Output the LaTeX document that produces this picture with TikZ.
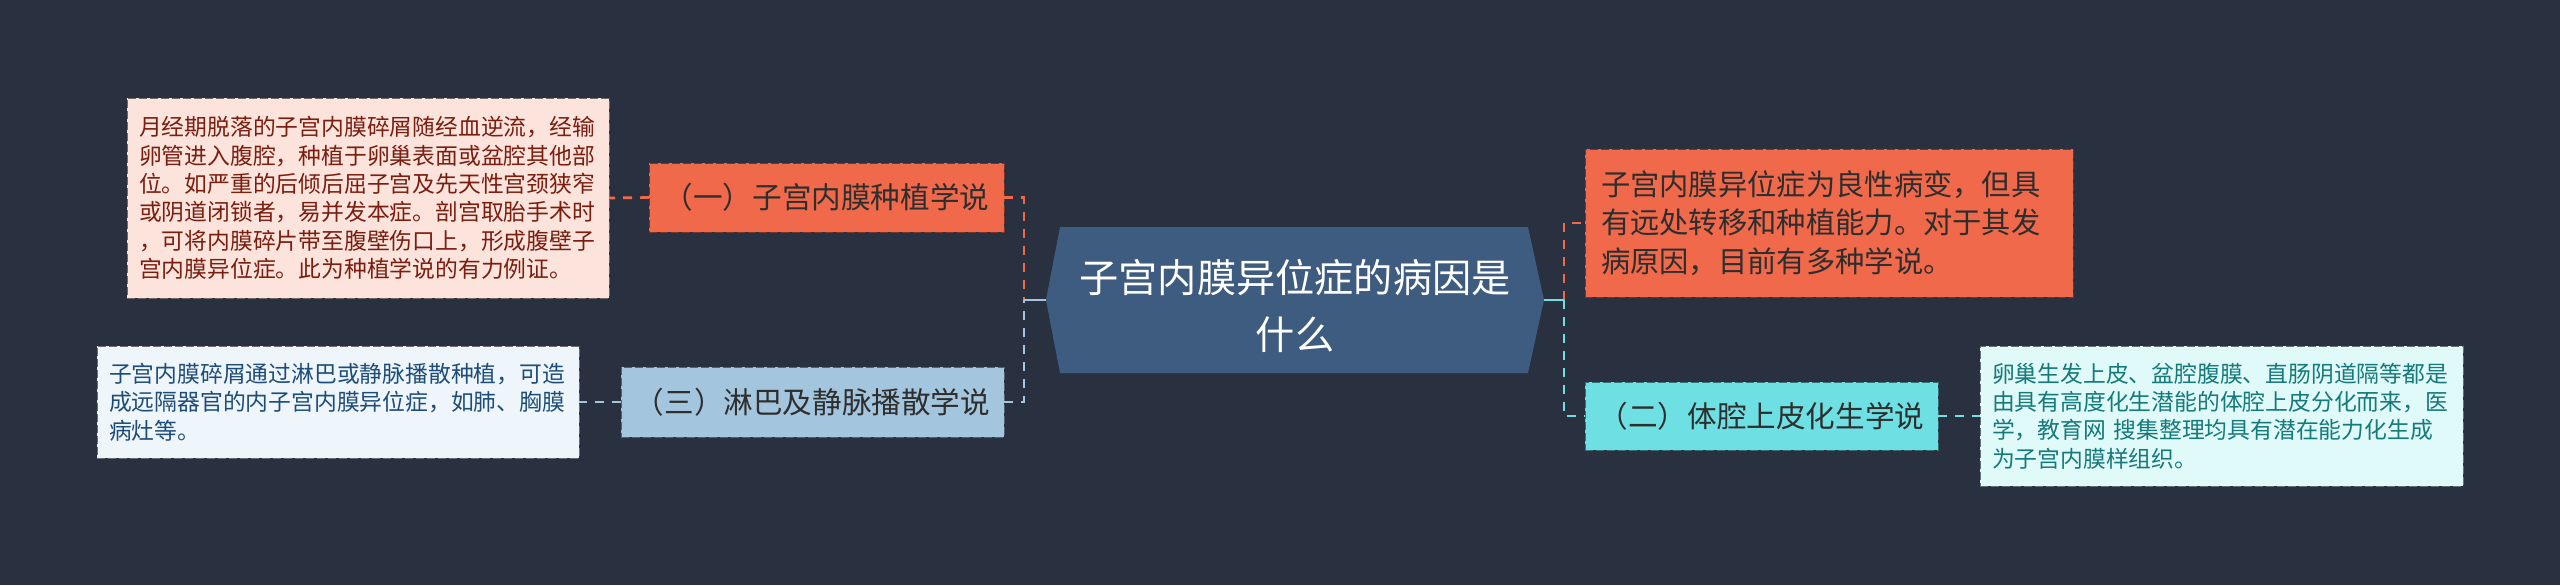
\documentclass[tikz,border=0pt]{standalone}
\usepackage{fontspec}
\setmainfont{Noto Sans CJK SC}
\definecolor{bg}{HTML}{293140}
\definecolor{cfill}{HTML}{3E5B80}
\definecolor{orng}{HTML}{F0694B}
\definecolor{pinkfill}{HTML}{FCE4DD}
\definecolor{pinktext}{HTML}{7A1E10}
\definecolor{lblue}{HTML}{A3C5DD}
\definecolor{bthreefill}{HTML}{EEF5FB}
\definecolor{bthreetext}{HTML}{1E4D78}
\definecolor{cyanone}{HTML}{6EE0E4}
\definecolor{rtwofill}{HTML}{E0F9F9}
\definecolor{rtwotext}{HTML}{157A7A}
\definecolor{dtext}{HTML}{2E2E2E}
\begin{document}
\begin{tikzpicture}[x=0.5pt,y=-0.5pt,
  conn/.style={line width=1.35pt, dash pattern=on 4.5pt off 4pt},
  solidconn/.style={line width=1.35pt},
  boxbase/.style={rectangle, outer sep=0pt, inner ysep=0pt, line width=0.5pt, dash pattern=on 4pt off 1.5pt},
  branch/.style={boxbase, fill=#1, draw=#1!50!black, align=center, inner xsep=0pt, font=\fontsize{14.8pt}{18pt}\selectfont, text=dtext},
  leaf/.style={boxbase, align=left, font=\fontsize{11.4pt}{14.15pt}\selectfont}
]
\useasboundingbox (0,0) rectangle (2560,585);
\fill[bg] (0,0) rectangle (2560,585);

% central topic
\fill[cfill] (1046,300) coordinate (cW) -- (1060,227) -- (1528,227) -- (1544,300) coordinate (cE) -- (1528,373) -- (1060,373) -- cycle;
\node[align=center, text=white, inner sep=0pt, font=\fontsize{19.6pt}{28.5pt}\selectfont] (center) at (1295,306) {子宫内膜异位症的病因是\\什么};

% branches
\node[branch=orng, minimum width=177.5pt, minimum height=34.5pt] (n1) at (826.5,197.5) {（一）子宫内膜种植学说};
\node[branch=lblue, minimum width=191.5pt, minimum height=35pt] (n3) at (812.5,402) {（三）淋巴及静脉播散学说};
\node[branch=cyanone, minimum width=176.5pt, minimum height=34pt] (n2) at (1761.5,416) {（二）体腔上皮化生学说};

% leaves
\node[leaf, fill=pinkfill, draw=pinkfill!45!black, text=pinktext, minimum width=241pt, minimum height=100pt, text width=229pt, inner xsep=6pt] (b1) at (368,198) {月经期脱落的子宫内膜碎屑随经血逆流，经输\\卵管进入腹腔，种植于卵巢表面或盆腔其他部\\位。如严重的后倾后屈子宫及先天性宫颈狭窄\\或阴道闭锁者，易并发本症。剖宫取胎手术时\\，可将内膜碎片带至腹壁伤口上，形成腹壁子\\宫内膜异位症。此为种植学说的有力例证。};
\node[leaf, fill=bthreefill, draw=bthreefill!45!black, text=bthreetext, minimum width=241pt, minimum height=56pt, text width=229pt, inner xsep=6pt] (b3) at (338,402) {子宫内膜碎屑通过淋巴或静脉播散种植，可造\\成远隔器官的内子宫内膜异位症，如肺、胸膜\\病灶等。};
\node[boxbase, fill=orng, draw=orng!50!black, text=dtext, align=left, minimum width=244pt, minimum height=74pt, text width=228pt, inner xsep=8pt, font=\fontsize{14.65pt}{19.15pt}\selectfont] (r1) at (1829,223) {子宫内膜异位症为良性病变，但具\\有远处转移和种植能力。对于其发\\病原因，目前有多种学说。};
\node[leaf, fill=rtwofill, draw=rtwofill!45!black, text=rtwotext, minimum width=241.5pt, minimum height=70pt, text width=229.5pt, inner xsep=6pt] (r2) at (2221.5,416) {卵巢生发上皮、盆腔腹膜、直肠阴道隔等都是\\由具有高度化生潜能的体腔上皮分化而来，医\\学，教育网 搜集整理均具有潜在能力化生成\\为子宫内膜样组织。};

% junctions
\coordinate (jl) at (1024,300);
\coordinate (jr) at (1564,300);

% connectors
\draw[conn, orng] (n1.east) -| (jl);
\draw[conn, lblue] (n3.east) -| (jl);
\draw[solidconn, lblue] (jl) -- (cW);
\draw[conn, orng] (jr) |- (r1.west);
\draw[conn, cyanone] (jr) |- (n2.west);
\draw[solidconn, cyanone] (cE) -- (jr);
\draw[conn, orng] (n1.west) -- (b1.east);
\draw[conn, lblue] (n3.west) -- (b3.east);
\draw[conn, cyanone] (n2.east) -- (r2.west);
\end{tikzpicture}
\end{document}
